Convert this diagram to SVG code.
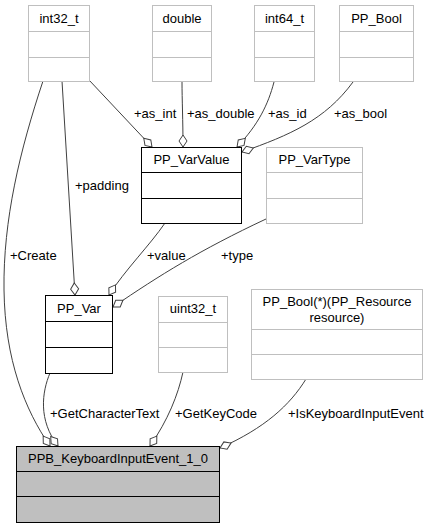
<svg xmlns="http://www.w3.org/2000/svg" width="430" height="528" viewBox="0 0 430 528">
<defs>
<style>
text{font-family:"Liberation Sans",Arial,sans-serif;font-size:13px;fill:#000}
.t{text-anchor:middle}
.g rect,.g line{fill:#fff;stroke:#bfbfbf;stroke-width:1}
.b rect,.b line{fill:#fff;stroke:#000;stroke-width:1}
.b rect.f{fill:#bfbfbf}
.e path{fill:none;stroke:#404040;stroke-width:1;marker-end:url(#d)}
</style>
<marker id="d" markerUnits="userSpaceOnUse" markerWidth="14" markerHeight="10" viewBox="0 -5 14 10" refX="13" refY="0" orient="auto" overflow="visible">
<path d="M1,0 L7,-4 L13,0 L7,4 Z" fill="#fff" stroke="#404040" stroke-width="1"/>
</marker>
</defs>
<rect width="430" height="528" fill="#fff"/>
<g id="edges" class="e">
<path d="M89,80 L152,147"/>
<path d="M182,81 C182,100 183,120 183,147"/>
<path d="M274,82 C268,105 258,125 237,147"/>
<path d="M353,82 C325,120 290,135 242,152"/>
<path d="M62,81 L75,295"/>
<path d="M43,81 C20,150 3,220 4,290 C5,360 25,410 50,446"/>
<path d="M165,223 C150,245 125,270 109,295"/>
<path d="M266,219 C200,250 160,275 113,307"/>
<path d="M50,373 C42,392 38,420 58,446"/>
<path d="M183,372 C178,395 168,420 150,446"/>
<path d="M306,379 C290,405 265,428 220,448"/>
</g>
<g id="labels">
<text x="134" y="118">+as_int</text>
<text x="187" y="118">+as_double</text>
<text x="268" y="118">+as_id</text>
<text x="334" y="118">+as_bool</text>
<text x="75" y="190">+padding</text>
<text x="10" y="260">+Create</text>
<text x="147" y="260">+value</text>
<text x="221" y="260">+type</text>
<text x="50" y="418">+GetCharacterText</text>
<text x="175" y="418">+GetKeyCode</text>
<text x="288" y="418">+IsKeyboardInputEvent</text>
</g>
<g id="int32_t" class="g">
<rect x="28.5" y="5.5" width="61" height="76"/>
<line x1="28.5" y1="31.5" x2="89.5" y2="31.5"/>
<line x1="28.5" y1="57.5" x2="89.5" y2="57.5"/>
<text class="t" x="59" y="23">int32_t</text>
</g>
<g id="double" class="g">
<rect x="152.5" y="5.5" width="59" height="76"/>
<line x1="152.5" y1="31.5" x2="211.5" y2="31.5"/>
<line x1="152.5" y1="57.5" x2="211.5" y2="57.5"/>
<text class="t" x="182" y="23">double</text>
</g>
<g id="int64_t" class="g">
<rect x="254.5" y="5.5" width="60" height="76"/>
<line x1="254.5" y1="31.5" x2="314.5" y2="31.5"/>
<line x1="254.5" y1="57.5" x2="314.5" y2="57.5"/>
<text class="t" x="284.5" y="23">int64_t</text>
</g>
<g id="PP_Bool" class="g">
<rect x="339.5" y="5.5" width="74" height="76"/>
<line x1="339.5" y1="31.5" x2="413.5" y2="31.5"/>
<line x1="339.5" y1="57.5" x2="413.5" y2="57.5"/>
<text class="t" x="376.5" y="23">PP_Bool</text>
</g>
<g id="PP_VarValue" class="b">
<rect x="141.5" y="147.5" width="100" height="76"/>
<line x1="141.5" y1="172.5" x2="241.5" y2="172.5"/>
<line x1="141.5" y1="198.5" x2="241.5" y2="198.5"/>
<text class="t" x="191.5" y="164">PP_VarValue</text>
</g>
<g id="PP_VarType" class="g">
<rect x="266.5" y="147.5" width="96" height="76"/>
<line x1="266.5" y1="172.5" x2="362.5" y2="172.5"/>
<line x1="266.5" y1="198.5" x2="362.5" y2="198.5"/>
<text class="t" x="314.5" y="164">PP_VarType</text>
</g>
<g id="PP_Var" class="b">
<rect x="45.5" y="295.5" width="67" height="78"/>
<line x1="45.5" y1="321.5" x2="112.5" y2="321.5"/>
<line x1="45.5" y1="347.5" x2="112.5" y2="347.5"/>
<text class="t" x="79" y="313">PP_Var</text>
</g>
<g id="uint32_t" class="g">
<rect x="158.5" y="296.5" width="69" height="76"/>
<line x1="158.5" y1="322.5" x2="227.5" y2="322.5"/>
<line x1="158.5" y1="347.5" x2="227.5" y2="347.5"/>
<text class="t" x="193" y="313">uint32_t</text>
</g>
<g id="PP_Bool_fn" class="g">
<rect x="251.5" y="289.5" width="171" height="90"/>
<line x1="251.5" y1="329.5" x2="422.5" y2="329.5"/>
<line x1="251.5" y1="354.5" x2="422.5" y2="354.5"/>
<text class="t" x="337" y="306">PP_Bool(*)(PP_Resource</text>
<text class="t" x="337" y="322">resource)</text>
</g>
<g id="PPB_KeyboardInputEvent_1_0" class="b">
<rect class="f" x="16.5" y="446.5" width="203" height="76"/>
<line x1="16.5" y1="471.5" x2="219.5" y2="471.5"/>
<line x1="16.5" y1="496.5" x2="219.5" y2="496.5"/>
<text class="t" x="118" y="463">PPB_KeyboardInputEvent_1_0</text>
</g>
</svg>
